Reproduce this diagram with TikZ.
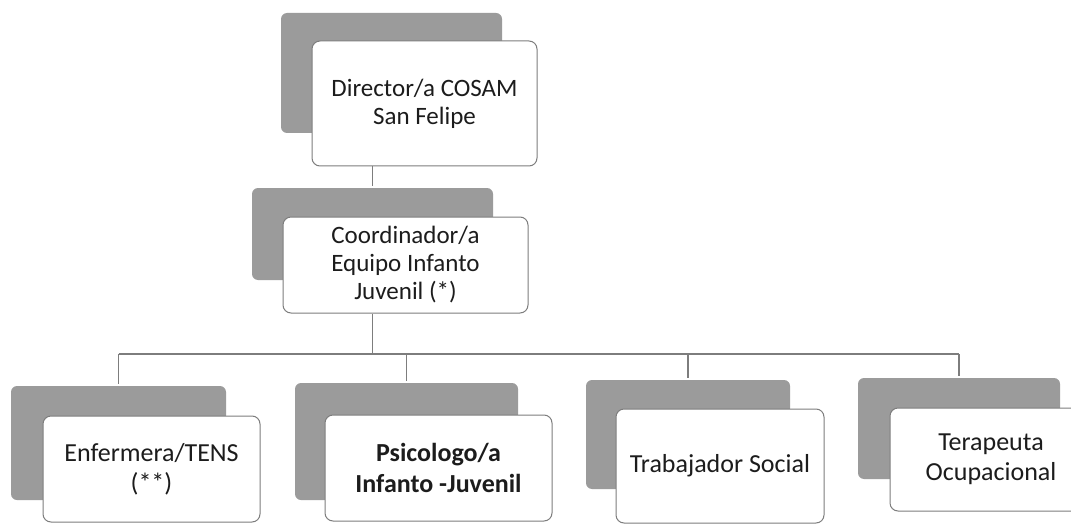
\documentclass[tikz,border=0pt]{standalone}
\usepackage{fontspec}
\setmainfont{Carlito}
\usepackage{tikz}

\definecolor{backgray}{RGB}{155,155,155}
\definecolor{edgegray}{RGB}{125,125,125}
\definecolor{txtgray}{RGB}{28,28,28}

\tikzset{
  back/.style={fill=backgray, rounded corners=6pt, inner sep=0pt},
  card/.style={draw=edgegray, line width=1pt, fill=white, rounded corners=8pt,
    align=center, inner sep=0pt, text=txtgray, font=\fontsize{25}{28}\selectfont},
  link/.style={draw=edgegray, line width=1.2pt}
}

\begin{document}
\begin{tikzpicture}[x=1pt,y=-1pt]
  \useasboundingbox (0,0) rectangle (1071,524);
  \clip (0,0) rectangle (1071,524);

  % top
  \node[back, minimum width=221pt, minimum height=120pt] (dirB) at (391.5,73) {};
  \node[card, minimum width=225pt, minimum height=125pt] (dir) at (424.5,103.5) {Director/a COSAM\\San Felipe};

  \node[back, minimum width=241pt, minimum height=92pt] (coordB) at (372.5,234) {};
  \node[card, minimum width=245pt, minimum height=96pt] (coord) at (405.5,265) {Coordinador/a\\Equipo Infanto\\Juvenil (*)};

  % bottom row
  \node[back, minimum width=215pt, minimum height=114pt] (enfB) at (118.5,443) {};
  \node[card, minimum width=217pt, minimum height=106pt, font=\fontsize{26}{30}\selectfont] (enf) at (151.5,469) {Enfermera/TENS\\(**)};

  \node[back, minimum width=223pt, minimum height=117pt] (psiB) at (406.5,441.5) {};
  \node[card, minimum width=227pt, minimum height=106pt, font=\fontsize{26}{31}\selectfont\bfseries] (psi) at (438.5,468) {Psicologo/a\\Infanto -Juvenil};

  \node[back, minimum width=204pt, minimum height=109pt] (traB) at (688,434.5) {};
  \node[card, minimum width=208pt, minimum height=114pt, font=\fontsize{26}{30}\selectfont] (tra) at (720,466) {Trabajador Social};

  \node[back, minimum width=202pt, minimum height=101pt] (terB) at (959,428.5) {};
  \node[card, minimum width=202pt, minimum height=103pt, font=\fontsize{26}{30}\selectfont] (ter) at (991,459.5) {Terapeuta\\Ocupacional};

  % lines
  \coordinate (bus) at (0,354);
  \draw[link] (dir.south -| coordB.north) -- ([yshift=2pt]coordB.north);
  \draw[link] (coord.south -| coordB.north) -- (coordB.north |- bus);
  \draw[link] (enfB.north |- bus) -- (terB.north |- bus);
  \foreach \n in {enfB,psiB,traB,terB}
    \draw[link] (\n.north |- bus) -- ([yshift=2pt]\n.north);
\end{tikzpicture}
\end{document}
